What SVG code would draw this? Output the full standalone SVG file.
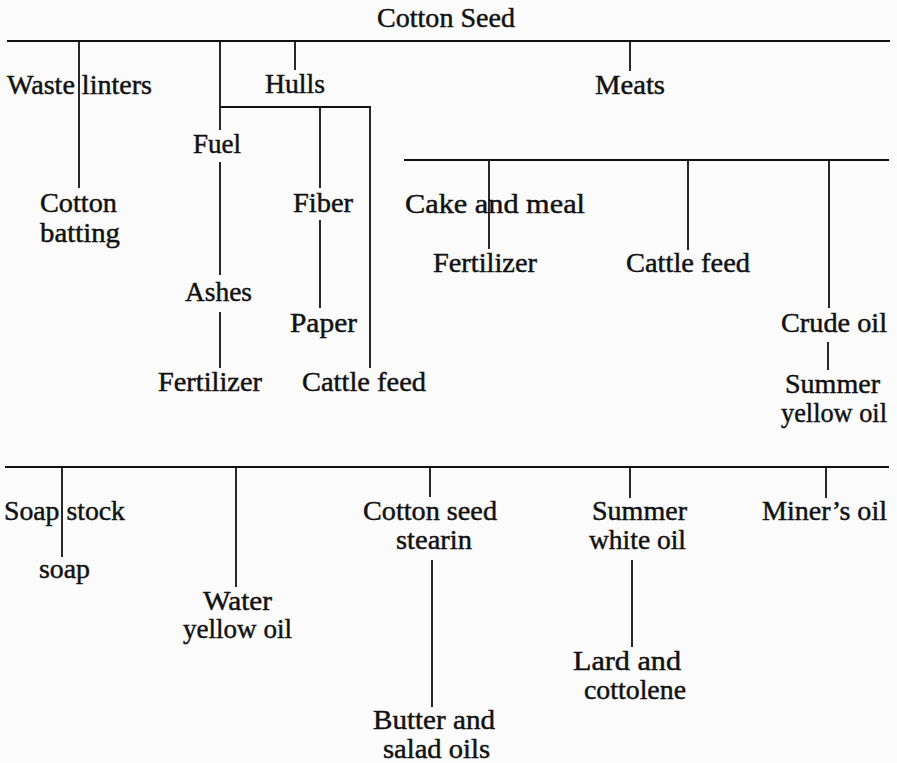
<svg xmlns="http://www.w3.org/2000/svg" width="897" height="763" viewBox="0 0 897 763">
<style>
text{font-family:"Liberation Serif","Times New Roman",serif;font-size:27px;fill:#111;stroke:#111;stroke-width:0.45;}
.h{stroke:#111;stroke-width:2.2;fill:none;}
.v{stroke:#111;stroke-width:1.8;fill:none;}
</style>
<rect x="0" y="0" width="897" height="763" fill="#fbfbfb"/>
<g id="connectors">
<path class="h" d="M7 41H890M220 107H371M404 160H889M5 467H889"/>
<path class="v" d="M79 41V188M220 41V130M220 162V275M220 312V368M295 41V70M320 107V188M320 220V308M370 107V368M630 41V71M489 160V249M688 160V250M829 160V308M828 342V370M62 467V557M236 467V587M430 467V497M432 560V707M630 467V498M632 560V647M826 467V498"/>
</g>
<g id="cotton-seed"><text x="377" y="27" textLength="138" lengthAdjust="spacingAndGlyphs">Cotton Seed</text></g>
<g id="waste-linters"><text x="7" y="94" textLength="145" lengthAdjust="spacingAndGlyphs">Waste linters</text></g>
<g id="hulls"><text x="265" y="93" textLength="60" lengthAdjust="spacingAndGlyphs">Hulls</text></g>
<g id="meats"><text x="595" y="94" textLength="70" lengthAdjust="spacingAndGlyphs">Meats</text></g>
<g id="fuel"><text x="193" y="153" textLength="48" lengthAdjust="spacingAndGlyphs">Fuel</text></g>
<g id="cotton-batting"><text x="40" y="212" textLength="77" lengthAdjust="spacingAndGlyphs">Cotton</text><text x="40" y="242" textLength="80" lengthAdjust="spacingAndGlyphs">batting</text></g>
<g id="fiber"><text x="293" y="212" textLength="60" lengthAdjust="spacingAndGlyphs">Fiber</text></g>
<g id="cake-and-meal"><text x="405" y="213" textLength="180" lengthAdjust="spacingAndGlyphs">Cake and meal</text></g>
<g id="fertilizer-meal"><text x="433" y="272" textLength="104" lengthAdjust="spacingAndGlyphs">Fertilizer</text></g>
<g id="cattle-feed-meats"><text x="626" y="272" textLength="124" lengthAdjust="spacingAndGlyphs">Cattle feed</text></g>
<g id="ashes"><text x="185" y="301" textLength="67" lengthAdjust="spacingAndGlyphs">Ashes</text></g>
<g id="paper"><text x="290" y="332" textLength="67" lengthAdjust="spacingAndGlyphs">Paper</text></g>
<g id="crude-oil"><text x="781" y="332" textLength="106" lengthAdjust="spacingAndGlyphs">Crude oil</text></g>
<g id="fertilizer-ashes"><text x="158" y="391" textLength="104" lengthAdjust="spacingAndGlyphs">Fertilizer</text></g>
<g id="cattle-feed-hulls"><text x="302" y="391" textLength="124" lengthAdjust="spacingAndGlyphs">Cattle feed</text></g>
<g id="summer-yellow-oil"><text x="785" y="393" textLength="95" lengthAdjust="spacingAndGlyphs">Summer</text><text x="781" y="422" textLength="106" lengthAdjust="spacingAndGlyphs">yellow oil</text></g>
<g id="soap-stock"><text x="4" y="520" textLength="121" lengthAdjust="spacingAndGlyphs">Soap stock</text></g>
<g id="soap"><text x="39" y="578" textLength="51" lengthAdjust="spacingAndGlyphs">soap</text></g>
<g id="water-yellow-oil"><text x="203" y="610" textLength="69" lengthAdjust="spacingAndGlyphs">Water</text><text x="183" y="638" textLength="109" lengthAdjust="spacingAndGlyphs">yellow oil</text></g>
<g id="cotton-seed-stearin"><text x="363" y="520" textLength="134" lengthAdjust="spacingAndGlyphs">Cotton seed</text><text x="396" y="549" textLength="76" lengthAdjust="spacingAndGlyphs">stearin</text></g>
<g id="butter-salad-oils"><text x="373" y="729" textLength="122" lengthAdjust="spacingAndGlyphs">Butter and</text><text x="383" y="758" textLength="107" lengthAdjust="spacingAndGlyphs">salad oils</text></g>
<g id="summer-white-oil"><text x="592" y="520" textLength="95" lengthAdjust="spacingAndGlyphs">Summer</text><text x="589" y="549" textLength="97" lengthAdjust="spacingAndGlyphs">white oil</text></g>
<g id="lard-cottolene"><text x="573" y="670" textLength="108" lengthAdjust="spacingAndGlyphs">Lard and</text><text x="584" y="699" textLength="102" lengthAdjust="spacingAndGlyphs">cottolene</text></g>
<g id="miners-oil"><text x="762" y="520" textLength="125" lengthAdjust="spacingAndGlyphs">Miner’s oil</text></g>
</svg>
